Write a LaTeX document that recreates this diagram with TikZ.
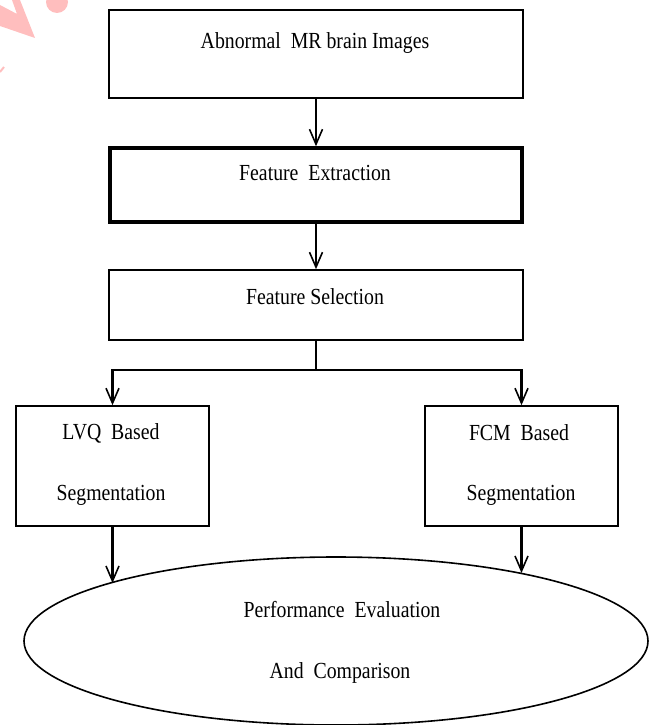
\documentclass[tikz,border=0pt]{standalone}
\usepackage{fontspec}
\setmainfont{Liberation Serif}
\usetikzlibrary{arrows.meta,shapes.geometric}
\definecolor{wm}{RGB}{255,190,190}
\newcommand{\cond}[1]{\scalebox{0.86}[1]{#1}}
\tikzset{
  lbl/.style={font=\fontsize{23}{25}\selectfont, inner sep=0pt},
  conn/.style={line width=2.2pt, -{Straight Barb[length=15pt,width=13pt,line width=1.6pt]}},
  plain/.style={line width=2.2pt}
}
\begin{document}
\begin{tikzpicture}[x=1pt,y=-1pt]
\useasboundingbox (0,0) rectangle (654,725);
% watermark
\fill[wm] (0,5) -- (17,14) -- (12,0) -- (20,0) -- (35,38) -- (0,26) -- cycle;
\fill[wm] (57,2) circle (11);
\draw[wm, line width=2pt] (0,72) -- (4,67);
% boxes
\node[draw, line width=1.6pt, minimum width=414pt, minimum height=88pt] (b1) at (316,54) {};
\node[lbl] (t1) at (315,43) {\cond{Abnormal\ \ MR brain Images}};
\node[draw, line width=3.5pt, minimum width=412pt, minimum height=74pt] (b2) at (316,185) {};
\node[lbl] (t2) at (315,173) {\cond{Feature\ \ Extraction}};
\node[draw, line width=1.6pt, minimum width=414pt, minimum height=70pt] (b3) at (316,305) {};
\node[lbl] (t3) at (315,297) {\cond{Feature Selection}};
\node[draw, line width=1.6pt, minimum width=193pt, minimum height=120pt] (lvq) at (112.5,466) {};
\node[lbl] (t4) at (111,433) {\cond{LVQ\ \ Based}};
\node[lbl] (t5) at (111,495) {\cond{Segmentation}};
\node[draw, line width=1.6pt, minimum width=193pt, minimum height=120pt] (fcm) at (521.5,466) {};
\node[lbl] (t6) at (519,433) {\cond{FCM\ \ Based}};
\node[lbl] (t7) at (521,495) {\cond{Segmentation}};
\node[draw, ellipse, line width=1.6pt, minimum width=624pt, minimum height=168pt, inner sep=0pt] (ev) at (336,641) {};
\node[lbl] (t8) at (342,610) {\cond{Performance\ \ Evaluation}};
\node[lbl] (t9) at (340,673) {\cond{And\ \ Comparison}};
% connectors
\coordinate (j) at (b3.south |- 0,370);
\coordinate (jl) at (lvq.north |- 0,370);
\coordinate (jr) at (fcm.north |- 0,370);
\coordinate (el) at (lvq.south |- 0,583);
\coordinate (er) at (fcm.south |- 0,573);
\draw[conn] (b1.south) -- (b2.north);
\draw[conn] (b2.south) -- (b3.north);
\draw[plain] (b3.south) -- (j);
\draw[plain, line cap=rect] (jl) -- (jr);
\draw[conn] (jl) -- (lvq.north);
\draw[conn] (jr) -- (fcm.north);
\draw[conn] (lvq.south) -- (el);
\draw[conn] (fcm.south) -- (er);
\end{tikzpicture}
\end{document}
